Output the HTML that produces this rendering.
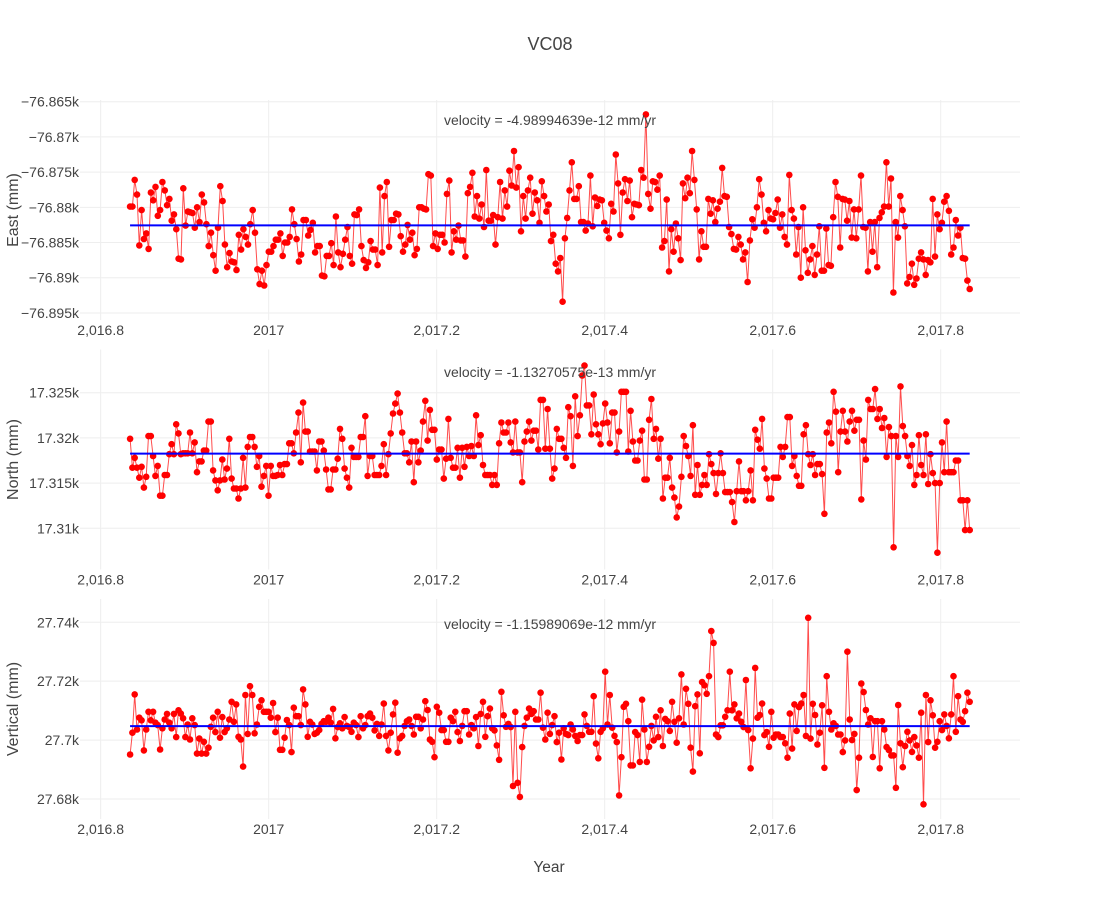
<!DOCTYPE html>
<html><head><meta charset="utf-8">
<style>
html,body{margin:0;padding:0;background:#fff;}
svg{display:block;font-family:"Liberation Sans",sans-serif;}
</style></head>
<body>
<svg id="chart" width="1100" height="900" viewBox="0 0 1100 900" xmlns="http://www.w3.org/2000/svg">
<rect width="1100" height="900" fill="#fff"/>
<text x="550" y="50" text-anchor="middle" font-size="18" fill="#444">VC08</text>
<text x="549" y="872" text-anchor="middle" font-size="15.5" fill="#444">Year</text>
</svg>
<script>
// ---- data ----
const startYear = 2016.835;
const endYear = 2017.8345;
const xTicks = [2016.8, 2017, 2017.2, 2017.4, 2017.6, 2017.8];
const xTickLabels = ["2,016.8", "2017", "2,017.2", "2,017.4", "2,017.6", "2,017.8"];

const eastBase = -76880;
const eastOffsetMm = [0.1,0.1,3.9,1.8,-5.4,-0.4,-4.5,-3.7,-5.9,2.1,1.0,2.9,-1.2,-0.4,3.6,2.4,0.3,1.2,-1.9,-1.0,-3.1,-7.3,-7.4,2.7,-2.6,-0.6,-0.7,-0.8,-2.9,0,-2.1,1.8,0.7,-2.4,-5.5,-3.6,-6.8,-9.0,-2.9,3.0,0.9,-5.3,-8.5,-6.5,-7.7,-7.8,-8.9,-3.9,-6.0,-3.1,-4.2,-5.3,-2.4,-0.4,-3.6,-8.8,-10.9,-9.0,-11.1,-8.2,-6.3,-6.3,-5.5,-4.6,-4.6,-3.7,-6.9,-5.0,-5.0,-4.2,-0.3,-2.4,-4.5,-7.7,-6.7,-1.8,-1.8,-4.0,-3.2,-2.2,-6.4,-5.5,-5.5,-9.7,-9.8,-6.9,-6.9,-5.1,-8.2,-1.3,-6.4,-8.5,-6.6,-4.6,-2.8,-6.9,-8.0,-1.0,-1.1,-0.3,-5.5,-7.5,-8.6,-7.8,-4.8,-6.0,-6.0,-8.2,2.8,-6.4,1.6,3.6,-5.6,-1.8,-1.8,-0.9,-1.0,-4.1,-6.3,-5.3,-2.5,-4.6,-3.6,-6.8,-5.9,0,0,-0.2,-0.3,4.7,4.5,-5.5,-3.7,-5.9,-3.9,-3.9,-5.0,1.9,3.8,-6.4,-3.4,-4.6,-2.6,-4.7,-4.7,-7.0,2.0,2.9,4.9,-1.3,1.6,-1.6,0.4,-2.8,5.3,-1.9,-1.9,-1.1,-5.3,-1.4,3.6,-1.6,2.4,0.1,5.2,3.1,8.0,2.8,5.7,-3.4,1.6,-1.6,2.4,4.2,-0.9,2.1,1.0,-2.2,3.7,1.6,-0.6,0.4,-4.8,-3.9,-8.0,-9.1,
-7.2,-13.4,-4.4,-1.5,2.4,6.4,1.2,1.2,3.0,-2.1,-2.1,-3.3,-2.3,4.5,-2.7,1.4,0.2,1.1,1.0,-2.2,-3.3,-4.4,0.5,-0.6,7.5,3.4,-3.9,2.1,4.0,0.9,3.8,-1.4,0.5,0.4,0.3,5.3,4.2,13.2,1.9,-0.2,3.7,3.6,2.5,4.5,-5.7,-4.8,1.1,-9.1,-3.1,-6.3,-2.3,-4.4,-7.5,3.4,1.3,4.2,2.0,8.0,3.9,-0.3,-7.4,-3.4,-5.6,-5.6,1.2,-0.9,1.0,-2.1,-0.2,0.8,5.6,1.6,1.5,-2.8,-3.8,-5.9,-6.0,-4.2,-5.3,-7.4,-6.4,-10.6,-4.7,-1.7,-2.9,0,4.0,1.8,-2.2,-3.4,-0.4,-1.6,-1.7,-0.8,1.1,-2.9,-1.0,-4.2,-5.3,4.6,-0.4,-1.6,-6.7,-2.8,-10.0,0,-6.1,-9.3,-7.4,-5.5,-9.6,-6.7,-2.7,-9.0,-9.0,-3.0,-8.2,-8.3,-1.4,3.6,1.5,-5.7,1.2,1.1,-1.9,0.9,-4.3,-0.3,-4.4,-0.3,4.5,-2.8,-2.9,-9.1,-2.1,-6.3,-2.1,-8.5,-1.5,-0.7,0.1,6.4,0.1,4.1,-12.1,-2.1,-4.3,1.6,-0.4,-2.7,-10.8,-9.9,-8.0,-11.0,-10.1,-7.3,-6.4,-7.4,-9.6,-7.5,-7.8,1.2,-7.0,-1.0,-3.1,-2.2,0.8,1.6,-0.5,-6.7,-5.7,-1.8,-4.0,-2.9,-7.2,-7.3,-10.4,-11.6];
const eastFit = -76882.56;

const northBase = 17320;
const northOffsetMm = [-0.1,-3.3,-2.2,-3.3,-4.4,-3.2,-5.5,-4.3,0.2,0.2,-2.0,-4.2,-3.1,-6.4,-6.4,-4.1,-4.1,-1.8,-0.7,-1.8,1.5,0.5,-1.8,-1.7,-1.7,-1.7,0.6,-1.7,-0.5,-3.8,-2.6,-2.6,-1.4,-1.4,1.8,1.8,-3.6,-4.7,-5.8,-4.7,-2.4,-4.6,-3.4,-0.1,-4.5,-5.6,-5.6,-6.7,-5.6,-2.2,-5.5,-1.0,0.1,0.1,-1.0,-3.2,-2.0,-5.4,-4.2,-3.1,-6.4,-3.1,-4.2,-4.2,-4.1,-3.0,-4.1,-2.9,-2.9,-0.6,-0.6,-1.7,0.6,2.8,-2.7,3.9,0.7,0.7,-1.5,-1.5,-1.5,-3.6,-0.4,-0.4,-1.4,-3.5,-5.7,-5.7,-3.5,-3.5,-2.3,1.0,-0.1,-3.4,-4.4,-5.5,-1.1,-2.1,-2.1,-2.1,0.1,0.1,2.4,-4.2,-2.0,-2.0,-4.1,-4.1,-4.1,-3.1,-0.7,-4.1,-1.8,0.5,2.7,3.8,4.9,2.8,0.6,-1.7,-1.7,-2.7,-0.4,-4.9,-0.4,-2.7,-1.4,1.8,4.1,-0.3,3.1,0.9,0.9,-2.4,-1.3,-1.3,-4.5,-2.3,2.1,-2.2,-3.3,-3.3,-1.1,-4.4,-1.1,-3.2,-1.0,-2.0,-0.9,-2.0,2.5,-0.8,0.3,-3.0,-4.1,-4.1,-4.1,-5.2,-4.1,-5.2,-0.6,1.7,0.6,0.6,1.7,-0.5,-1.6,1.8,-1.6,-1.6,-4.9,-0.4,0.7,1.8,-0.3,0.8,0.8,-1.3,4.2,4.2,-1.2,3.2,-1.2,-4.5,-3.4,1.0,-0.1,
-0.1,-1.1,-2.2,3.4,2.4,-3.1,4.6,0.2,2.5,6.9,8.0,3.6,3.6,0.4,4.8,1.5,0.4,-0.7,1.6,3.8,1.7,-0.6,2.8,2.8,-1.6,0.7,5.1,5.1,5.1,-1.5,3.0,-0.4,-2.5,-2.5,-0.3,0.8,-4.6,-4.6,2.0,4.3,-0.1,1.0,-2.3,-0.1,-6.7,-4.4,-4.4,-2.2,-5.5,-6.6,-8.8,-7.6,-4.3,0.2,-0.9,-2.0,-4.2,1.4,-6.3,-3.0,-6.3,-5.2,-4.1,-5.2,-1.8,-2.9,-3.9,-6.2,-3.9,-1.7,-3.9,-6.0,-6.0,-6.0,-7.1,-9.3,-5.9,-2.6,-5.9,-5.9,-6.9,-5.9,-3.6,-6.9,0.9,-0.2,-1.2,2.1,-3.4,-4.5,-6.7,-6.7,-4.4,-4.4,-4.4,-1.0,-2.1,-1.0,2.3,2.3,-3.1,-2.0,-4.2,-5.3,-5.3,0.4,1.4,-1.8,-3.0,-1.8,-4.1,-2.9,-2.9,-4.0,-8.4,0.6,1.7,-0.6,5.1,2.9,-3.8,0.7,3.0,0.7,-0.4,1.8,3.0,0.8,2.0,2.0,-6.8,-0.3,-2.4,4.2,3.2,3.2,5.4,2.1,3.2,1.1,2.2,-2.1,1.2,0.2,-12.1,0.2,-2.1,5.7,1.3,0.2,-2.0,-3.1,-0.8,-5.2,-4.1,0.3,-3.0,-4.1,0.4,-5.1,-1.8,-3.9,-5.0,-12.7,-5.0,-0.5,-3.8,1.8,-3.8,-3.8,-3.8,-2.5,-2.5,-6.9,-6.9,-10.2,-6.9,-10.2];
const northFit = 17318.26;

const vertBase = 27700;
const vertOffsetMm = [-4.9,2.5,15.5,3.6,7.6,6.7,-3.5,3.6,9.6,6.7,9.6,5.9,5.1,-3.2,4.0,7.0,8.9,5.9,4.0,8.9,1.0,10.1,9.0,7.4,1.0,5.3,0.2,7.4,5.1,-4.6,0.5,-4.6,-0.6,-4.6,-2.6,4.5,7.6,2.7,9.6,0.8,7.8,2.7,4.0,7.0,13.0,6.2,12.1,1.1,0.2,-9.0,15.3,2.1,18.3,15.3,2.3,5.3,11.3,13.5,9.6,9.6,9.6,7.6,12.6,2.7,7.6,-3.3,-3.3,0.8,6.8,5.1,-4.1,11.0,8.1,8.1,5.1,17.2,12.1,1.1,6.2,5.3,2.1,2.5,3.4,5.5,6.4,6.2,7.6,5.9,10.6,0.6,4.4,5.7,4.0,7.8,4.8,4.4,2.8,5.9,5.1,1.0,8.1,4.0,5.1,8.1,9.0,7.6,3.3,5.5,1.4,5.3,12.4,1.4,-3.5,2.5,8.7,12.7,-4.3,0.6,1.4,4.8,6.4,7.0,4.8,1.9,7.9,7.9,4.0,7.0,13.2,10.2,0.2,-0.6,-5.8,11.3,9.3,3.4,3.4,-0.6,-0.6,7.6,6.4,9.6,2.7,-0.3,4.8,9.8,9.8,1.9,5.1,4.0,7.8,-2.0,8.9,13.0,1.1,8.1,10.7,4.0,3.3,-1.8,-6.7,16.4,8.4,4.5,5.5,4.4,-15.6,9.6,-14.5,-19.3,-2.4,4.8,7.6,10.7,8.9,9.8,7.0,7.0,16.1,4.2,0.2,9.3,2.1,5.1,8.1,-0.7,2.5,
-6.6,4.0,2.1,1.7,5.3,3.6,1.4,-0.3,1.7,1.7,8.7,4.8,2.8,2.8,14.9,-1.2,-6.2,2.8,4.0,23.2,5.3,15.3,4.2,1.4,-0.7,-18.8,-5.8,11.3,12.3,6.4,-8.6,-8.6,2.7,1.7,-7.4,13.7,3.6,-7.4,-2.3,4.8,-0.1,7.9,1.0,10.1,-2.0,7.2,6.4,3.1,13.0,6.2,-0.9,7.4,22.3,5.3,17.4,12.3,-2.6,-10.7,11.5,15.5,-4.5,19.7,18.6,15.7,21.7,37.0,33.0,1.9,1.0,5.0,5.0,7.9,10.1,23.2,10.1,12.1,7.4,9.0,6.2,4.4,20.4,3.4,-9.6,0.5,24.5,7.6,8.5,12.4,1.7,2.7,-2.3,9.6,0.8,1.9,1.9,1.0,1.0,-1.1,-6.0,9.0,-2.9,12.1,3.1,11.2,12.4,15.3,1.4,41.5,0.5,12.3,8.5,-1.5,2.5,11.8,-9.4,21.7,9.6,3.6,5.7,4.8,1.9,1.9,-4.1,-0.1,30.0,7.0,0,2.1,-17.0,-6.0,19.2,16.3,10.2,5.3,7.4,-5.7,6.4,6.4,-9.6,6.4,3.6,-2.4,-3.4,-5.2,-5.2,-16.2,11.9,-1.1,-9.2,-2.0,2.8,-0.1,-4.0,1.0,-1.8,-6.0,9.3,-21.8,15.3,-0.7,13.5,8.4,-2.6,-0.6,6.4,3.4,8.7,4.8,0.6,8.7,21.7,2.8,14.9,7.0,6.2,9.8,16.1,13.0];
const vertFit = 27704.75;

const panels = [
  {key:"east", title:"East (mm)", base:eastBase, offs:eastOffsetMm, fit:eastFit, y0:-76896.0, y1:-76864.76, top:100, bottom:320,
   ticks:[-76895,-76890,-76885,-76880,-76875,-76870,-76865], labels:["\u221276.895k","\u221276.89k","\u221276.885k","\u221276.88k","\u221276.875k","\u221276.87k","\u221276.865k"],
   vel:"velocity = -4.98994639e-12 mm/yr", velY:125},
  {key:"north", title:"North (mm)", base:northBase, offs:northOffsetMm, fit:northFit, y0:17305.44, y1:17329.78, top:349.5, bottom:569.5,
   ticks:[17310,17315,17320,17325], labels:["17.31k","17.315k","17.32k","17.325k"],
   vel:"velocity = -1.13270575e-13 mm/yr", velY:377},
  {key:"vertical", title:"Vertical (mm)", base:vertBase, offs:vertOffsetMm, fit:vertFit, y0:27673.2, y1:27747.9, top:599, bottom:819,
   ticks:[27680,27700,27720,27740], labels:["27.68k","27.7k","27.72k","27.74k"],
   vel:"velocity = -1.15989069e-12 mm/yr", velY:629}
];

// ---- drawing ----
const NS = "http://www.w3.org/2000/svg";
const svg = document.getElementById("chart");
const X0 = 80, X1 = 1020, XMIN = 2016.7754, XMAX = 2017.8944;
function xScale(v){ return X0 + (v - XMIN) / (XMAX - XMIN) * (X1 - X0); }
function mk(tag, attrs, parent){
  const e = document.createElementNS(NS, tag);
  for (const k in attrs) e.setAttribute(k, attrs[k]);
  (parent || svg).appendChild(e);
  return e;
}

panels.forEach(p => {
  const yScale = v => p.bottom - (v - p.y0) / (p.y1 - p.y0) * (p.bottom - p.top);
  const g = mk("g", {});
  
  

  xTicks.forEach((t, i) => {
    const x = xScale(t);
    const gl = mk("line", {x1:x, x2:x, y1:p.top, y2:p.bottom, stroke:"#eee", "stroke-width":1}, g);
    
    
    const tl = mk("text", {x:x, y:p.bottom + 15, "text-anchor":"middle", "font-size":14, fill:"#444"}, g);
    tl.textContent = xTickLabels[i];
    
    
  });
  p.ticks.forEach((t, i) => {
    const y = yScale(t);
    const gl = mk("line", {x1:X0, x2:X1, y1:y, y2:y, stroke:"#eee", "stroke-width":1}, g);
    
    
    const tl = mk("text", {x:X0 - 1, y:y + 5, "text-anchor":"end", "font-size":14, fill:"#444"}, g);
    tl.textContent = p.labels[i];
    
    
  });
  const cy = (p.top + p.bottom) / 2;
  const yt = mk("text", {x:0, y:0, transform:"translate(18," + cy + ") rotate(-90)", "text-anchor":"middle", "font-size":16, fill:"#444"}, g);
  yt.textContent = p.title;
  
  

  const n = p.offs.length;
  const pts = p.offs.map((o, i) => {
    const yr = startYear + i * (endYear - startYear) / (n - 1);
    return [xScale(yr), yScale(p.base + o)];
  });
  const line = mk("polyline", {points: pts.map(q => q[0].toFixed(1) + "," + q[1].toFixed(1)).join(" "), fill:"none", stroke:"#ff0000", "stroke-opacity":0.7, "stroke-width":1}, g);
  
  
  const mg = mk("g", {fill:"#ff0000"}, g);
  
  
  pts.forEach(q => {
    const c = mk("circle", {cx:q[0].toFixed(1), cy:q[1].toFixed(1), r:3.3}, mg);
    
    
  });
  const fl = mk("line", {x1:xScale(startYear), x2:xScale(endYear), y1:yScale(p.fit), y2:yScale(p.fit), stroke:"#0000ff", "stroke-width":2}, g);
  
  
  const vt = mk("text", {x:550, y:p.velY, "text-anchor":"middle", "font-size":14, fill:"#444"}, g);
  vt.textContent = p.vel;
  
  
});
</script>
</body></html>
